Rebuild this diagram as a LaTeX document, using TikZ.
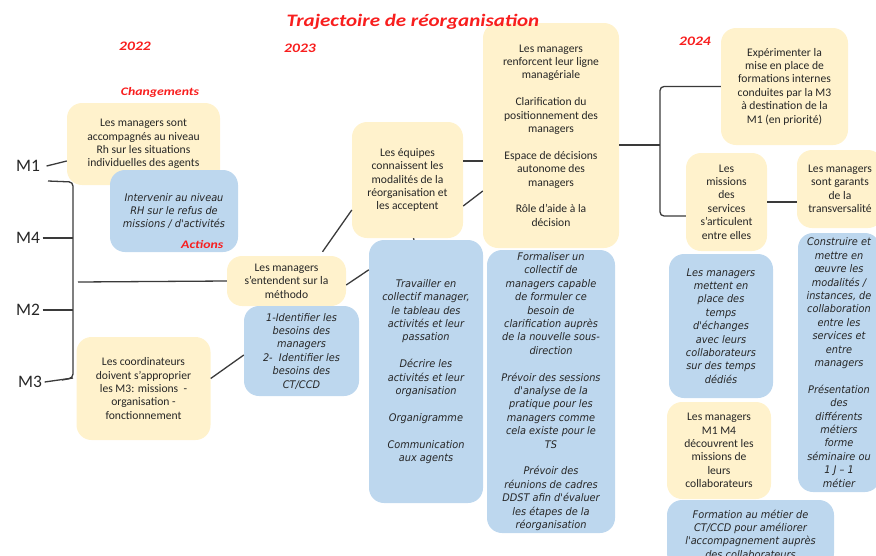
\documentclass[tikz,border=0pt]{standalone}
\usepackage{fontspec}
\setmainfont{Carlito}
\newfontfamily\actfont{DejaVu Sans}[FakeStretch=0.93]
\newfontfamily\handfont{Carlito}[FakeStretch=1.2]
\definecolor{chyellow}{HTML}{FFF2CC}
\definecolor{actblue}{HTML}{BDD7EE}
\definecolor{redlab}{HTML}{F81E1E}
\definecolor{linegray}{HTML}{3A3A3A}
\definecolor{txtgray}{HTML}{262626}
\begin{document}
\begin{tikzpicture}[x=1pt,y=-1pt,inner sep=0pt,
                change/.style={fill=chyellow,rounded corners=15pt,align=center,text=txtgray,
                  font=\fontsize{11.6}{13.4}\selectfont},
                action/.style={fill=actblue,rounded corners=15pt,align=center,text=txtgray,
                  font=\actfont\itshape\fontsize{10.5}{13.4}\selectfont},
                redlabel/.style={text=redlab,font=\handfont\bfseries\itshape\fontsize{11.5}{13}\selectfont},
                mlabel/.style={inner sep=2.5pt,text=txtgray,font=\fontsize{17.5}{18}\selectfont},
                link/.style={draw=linegray,line width=1.3pt}]
\useasboundingbox (0,0) rectangle (876,555);
\clip (0,0) rectangle (876,555);

\node[redlabel,font=\handfont\bfseries\itshape\fontsize{13}{14}\selectfont] (y2022) at (135,46) {2022};
\node[redlabel,font=\handfont\bfseries\itshape\fontsize{13}{14}\selectfont] (y2023) at (300,48) {2023};
\node[redlabel,font=\handfont\bfseries\itshape\fontsize{13}{14}\selectfont] (y2024) at (695,41) {2024};
\node[redlabel] (chg) at (160,92) {Changements};

\node[mlabel] (m1) at (28,166) {M1};
\node[mlabel] (m4) at (28,238) {M4};
\node[mlabel] (m2) at (28,310) {M2};
\node[mlabel] (m3) at (30,382) {M3};

\node[change,minimum width=153pt,minimum height=82pt] (b1) at (143.5,144)
  {Les managers sont\\accompagnés au niveau\\Rh sur les situations\\individuelles des agents};
\node[action,minimum width=128pt,minimum height=82pt] (a1) at (174,211)
  {Intervenir au niveau\\RH sur le refus de\\missions / d'activités};
\node[redlabel] (actions) at ([xshift=-36pt,yshift=8pt]a1.south east) {Actions};
\node[change,minimum width=134pt,minimum height=103pt] (b2) at (143.5,388.5)
  {Les coordinateurs\\doivent s'approprier\\les M3: missions~ -\\organisation -\\fonctionnement};
\node[change,minimum width=119pt,minimum height=50pt] (b3) at (286.5,281)
  {Les managers\\s'entendent sur la\\méthodo};
\node[action,minimum width=115pt,minimum height=90pt] (a2) at (301.5,351)
  {1-Identifier les\\besoins des\\managers\\2-~ Identifier les\\besoins des\\CT/CCD};
\node[change,minimum width=111pt,minimum height=116pt] (b4) at (407.5,180)
  {Les équipes\\connaissent les\\modalités de la\\réorganisation et\\les acceptent};
\node[action,minimum width=114pt,minimum height=263pt] (a3) at (426,371.5)
  {Travailler en\\collectif manager,\\le tableau des\\activités et leur\\passation\\[13.4pt]
   Décrire les\\activités et leur\\organisation\\[13.4pt]Organigramme\\[13.4pt]Communication\\aux agents};
\node[change,minimum width=136pt,minimum height=225pt] (b5) at (551,135.5)
  {Les managers\\renforcent leur ligne\\managériale\\[13.4pt]Clarification du\\positionnement des\\managers\\[13.4pt]
   Espace de décisions\\autonome des\\managers\\[13.4pt]Rôle d'aide à la\\décision};
\node[action,minimum width=128pt,minimum height=283pt] (a4) at (551,391.5)
  {Formaliser un\\collectif de\\managers capable\\de formuler ce\\besoin de\\clarification auprès\\de la nouvelle sous-\\direction\\[13.4pt]
   Prévoir des sessions\\d'analyse de la\\pratique pour les\\managers comme\\cela existe pour le\\TS\\[13.4pt]
   Prévoir des\\réunions de cadres\\DDST afin d'évaluer\\les étapes de la\\réorganisation};
\node[change,minimum width=127pt,minimum height=117pt] (b6) at (784.5,86.5)
  {Expérimenter la\\mise en place de\\formations internes\\conduites par la M3\\à destination de la\\M1 (en priorité)};
\node[change,minimum width=81pt,minimum height=98pt] (b7) at (726.5,202)
  {Les\\missions\\des\\services\\s'articulent\\entre elles};
\node[change,minimum width=86pt,minimum height=78pt] (b8) at (840,189)
  {Les managers\\sont garants\\de la\\transversalité};
\node[action,minimum width=82pt,minimum height=259pt] (a5) at (839,362.5)
  {Construire et\\mettre en\\œuvre les\\modalités /\\instances, de\\collaboration\\entre les\\services et\\entre\\managers\\[13.4pt]
   Présentation\\des\\différents\\métiers\\forme\\séminaire ou\\1 J – 1\\métier};
\node[action,minimum width=104pt,minimum height=144pt] (a6) at (721,326)
  {Les managers\\mettent en\\place des\\temps\\d'échanges\\avec leurs\\collaborateurs\\sur des temps\\dédiés};
\node[change,minimum width=104pt,minimum height=97pt] (b9) at (719,450.5)
  {Les managers\\M1 M4\\découvrent les\\missions de\\leurs\\collaborateurs};
\node[action,minimum width=167pt,minimum height=68pt] (a7) at (750.5,534)
  {Formation au métier de\\CT/CCD pour améliorer\\l'accompagnement auprès\\des collaborateurs};

\node[redlabel,font=\handfont\bfseries\itshape\fontsize{17.5}{19}\selectfont] (title) at (413,22) {Trajectoire de réorganisation};

\coordinate (brstart) at (48,181);
\coordinate (brtop) at (73,182);
\coordinate (brbot) at (73,378);
\coordinate (brmid) at (78,282);
\coordinate (fork) at (660,145);
\coordinate (b4a) at ([yshift=19pt]b4.east);
\coordinate (b7in) at ([yshift=-14pt]b7.west);

\draw[link] ([xshift=4pt]m1.east) -- ([yshift=-17pt]b1.west);
\draw[link,rounded corners=4pt] (brstart) -- (brtop) -- (brbot) -- (62,380);
\draw[link] (m4.east) -- (m4.east -| brtop);
\draw[link] (m2.east) -- (m2.east -| brtop);
\draw[link] (m3.east) -- (brbot);
\draw[link] (brmid) -- (b3.west);
\draw[link] ([yshift=10pt]b2.east) -- ([yshift=-4pt]a2.west);
\draw[link] ([xshift=36pt,yshift=4pt]b3.north) -- ([yshift=-30pt]b4.west);
\draw[link] ([yshift=-4pt]b3.east) -- ([yshift=-30pt]a3.north west);
\draw[link] ([xshift=6pt]b4.south) -- ([xshift=-12pt]a3.north);
\draw[link] (b4a) -- (b4a -| b5.west);
\draw[link] ([yshift=-26pt]b4.east) -- ([yshift=-55.5pt]b5.west);
\draw[link] ([yshift=-9.5pt]b5.east) -- (fork);
\draw[link,rounded corners=4pt] (b6.west) -- (b6.west -| fork) -- (b7in -| fork) -- (b7in);
\draw[link] (b7.east) -- (b7.east -| b8.west);
\end{tikzpicture}
\end{document}
